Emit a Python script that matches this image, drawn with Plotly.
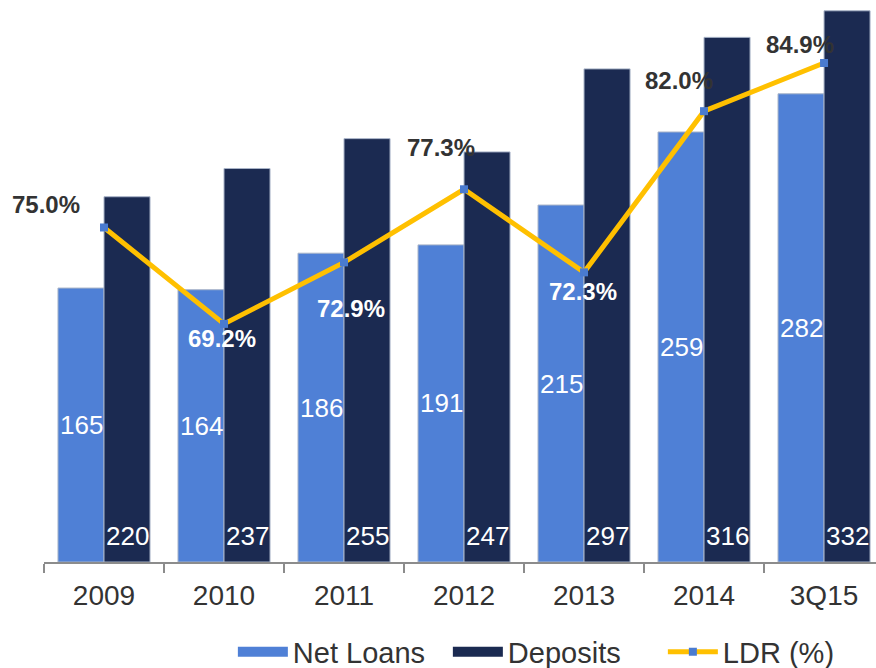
import plotly.graph_objects as go

categories = ["2009", "2010", "2011", "2012", "2013", "2014", "3Q15"]
net_loans = [165, 164, 186, 191, 215, 259, 282]
deposits = [220, 237, 255, 247, 297, 316, 332]
ldr = [75.0, 69.2, 72.9, 77.3, 72.3, 82.0, 84.9]

# label placement (pixels relative to the marker) and colours for LDR labels
ldr_dx = [-58, -2, 7, -23, -1, -25, -24]
ldr_dy = [23, -15, -46, 42, -19, 31, 18]
ldr_col = ["#333333", "white", "white", "#333333", "white", "#333333", "#333333"]

FONT = "Arial, Liberation Sans, sans-serif"
LOAN_C = "#4f80d6"
DEP_C = "#1b2a51"

fig = go.Figure()
fig.add_trace(go.Bar(
    name="Net Loans", x=categories, y=net_loans, showlegend=False, legendgroup="nl",
    marker=dict(color=LOAN_C, line=dict(color="#a9b4c8", width=1)),
))
fig.add_trace(go.Bar(
    name="Deposits", x=categories, y=deposits, showlegend=False, legendgroup="dep",
    marker=dict(color=DEP_C, line=dict(color="#a9b4c8", width=1)),
))
# legend-only entries drawn as wide swatches
fig.add_trace(go.Scatter(name="Net Loans", x=[None], y=[None], mode="lines", legendgroup="nl",
                         line=dict(color=LOAN_C, width=14)))
fig.add_trace(go.Scatter(name="Deposits", x=[None], y=[None], mode="lines", legendgroup="dep",
                         line=dict(color=DEP_C, width=14)))
fig.add_trace(go.Scatter(
    name="LDR (%)", x=categories, y=ldr, yaxis="y2", mode="lines+markers",
    line=dict(color="#ffc000", width=5),
    marker=dict(symbol="square", size=8, color="#4a7bd0"),
))

ann = []
for i, v in enumerate(net_loans):
    ann.append(dict(x=i, y=v / 2, xref="x", yref="y", text=str(v), showarrow=False,
                    xshift=-23, font=dict(family=FONT, size=26, color="white")))
for i, v in enumerate(deposits):
    ann.append(dict(x=i, y=0, xref="x", yref="y", text=str(v), showarrow=False,
                    xshift=23, yshift=26, font=dict(family=FONT, size=26, color="white")))
for i, (v, dx, dy, col) in enumerate(zip(ldr, ldr_dx, ldr_dy, ldr_col)):
    ann.append(dict(x=i, y=v, xref="x", yref="y2", text="<b>%.1f%%</b>" % v, showarrow=False,
                    xshift=dx, yshift=dy, font=dict(family=FONT, size=24, color=col)))

fig.update_layout(
    width=876, height=668,
    margin=dict(l=44, r=0, t=0, b=106, autoexpand=False),
    paper_bgcolor="white", plot_bgcolor="white",
    barmode="group", bargap=0.233, bargroupgap=0,
    font=dict(family=FONT, color="#333333"),
    showlegend=True,
    legend=dict(orientation="h", x=0.227, xanchor="left", y=-0.16, yanchor="middle",
                font=dict(family=FONT, size=29, color="#333333"),
                itemwidth=50, entrywidth=150, tracegroupgap=0),
    xaxis=dict(range=[-0.5, 6.433], showline=True, linecolor="#8c8c8c", linewidth=2,
               ticks="outside", tickson="boundaries", ticklen=9, tickcolor="#8c8c8c",
               tickwidth=2, ticklabelstandoff=7,
               tickfont=dict(family=FONT, size=28, color="#333333"),
               showgrid=False, zeroline=False),
    yaxis=dict(range=[0, 338.5], visible=False, showgrid=False, zeroline=False),
    yaxis2=dict(range=[54.87, 88.69], overlaying="y", visible=False, showgrid=False,
                zeroline=False),
    annotations=ann,
)

fig.write_html("out.html", post_script="document.body.style.margin='0';",
               config={"displayModeBar": False})
